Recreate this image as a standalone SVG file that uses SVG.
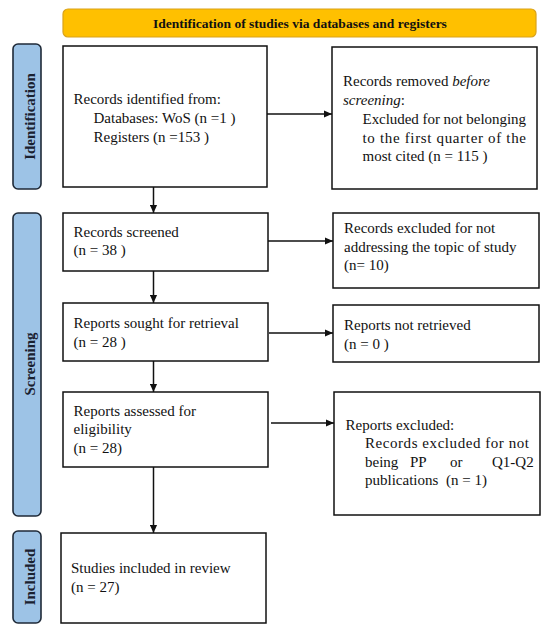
<svg xmlns="http://www.w3.org/2000/svg" width="550" height="633" viewBox="0 0 550 633">
<defs>
<style>
.box{fill:#fff;stroke:#111;stroke-width:1.5}
.bar{fill:#9DC3E6;stroke:#1f2a38;stroke-width:1.6}
.t{font-family:"Liberation Serif","Times New Roman",serif;font-size:15px;fill:#111}
.lbl{font-family:"Liberation Serif","Times New Roman",serif;font-size:15px;font-weight:bold;fill:#1a2130}
.hdr{font-family:"Liberation Serif","Times New Roman",serif;font-size:13.5px;font-weight:bold;fill:#111}
.c{stroke:#111;stroke-width:1.5;fill:none;marker-end:url(#ah)}
</style>
<marker id="ah" viewBox="0 0 10 10" refX="10" refY="5" markerWidth="9" markerHeight="8" markerUnits="userSpaceOnUse" orient="auto">
<path d="M0,0.5 L10,5 L0,9.5 z" fill="#111"/>
</marker>
</defs>
<rect width="550" height="633" fill="#fff"/>

<g id="header">
<rect x="63" y="9" width="473" height="28" rx="5" fill="#FFC000" stroke="#D9A21B" stroke-width="1.2"/>
<text class="hdr" x="300" y="28" text-anchor="middle">Identification of studies via databases and registers</text>
</g>

<g id="phase-identification">
<rect class="bar" x="13" y="44" width="28" height="145" rx="5"/>
<text class="lbl" x="34.5" y="116.5" text-anchor="middle" transform="rotate(-90 34.5 116.5)">Identification</text>
</g>
<g id="phase-screening">
<rect class="bar" x="13" y="213" width="28" height="303" rx="5"/>
<text class="lbl" x="34.5" y="364" text-anchor="middle" transform="rotate(-90 34.5 364)">Screening</text>
</g>
<g id="phase-included">
<rect class="bar" x="13" y="531" width="28" height="92" rx="5"/>
<text class="lbl" x="34.5" y="577" text-anchor="middle" transform="rotate(-90 34.5 577)">Included</text>
</g>

<g id="records-identified">
<rect class="box" x="63" y="46" width="204" height="141"/>
<text class="t" x="73.5" y="104">Records identified from:</text>
<text class="t" x="93.5" y="123">Databases: WoS (n =1 )</text>
<text class="t" x="93.5" y="142">Registers (n =153 )</text>
</g>

<g id="records-removed">
<rect class="box" x="332" y="47" width="205" height="142"/>
<text class="t" x="343" y="86">Records removed <tspan font-style="italic">before</tspan></text>
<text class="t" x="343" y="105"><tspan font-style="italic">screening</tspan>:</text>
<text class="t" x="362.5" y="124" textLength="163.5" lengthAdjust="spacing">Excluded for not belonging</text>
<text class="t" x="362.5" y="142.5" textLength="163.5" lengthAdjust="spacing">to the first quarter of the</text>
<text class="t" x="362.5" y="161">most cited (n = 115 )</text>
</g>

<g id="records-screened">
<rect class="box" x="63" y="213" width="205" height="58"/>
<text class="t" x="73.5" y="236.5">Records screened</text>
<text class="t" x="73.5" y="255">(n = 38 )</text>
</g>

<g id="records-excluded">
<rect class="box" x="333" y="213" width="206" height="75"/>
<text class="t" x="344" y="233">Records excluded for not</text>
<text class="t" x="344" y="252">addressing the topic of study</text>
<text class="t" x="344" y="270">(n= 10)</text>
</g>

<g id="reports-sought">
<rect class="box" x="63" y="303" width="205" height="58"/>
<text class="t" x="73.5" y="328">Reports sought for retrieval</text>
<text class="t" x="73.5" y="347">(n = 28 )</text>
</g>

<g id="reports-not-retrieved">
<rect class="box" x="333" y="305" width="206" height="57"/>
<text class="t" x="344" y="330">Reports not retrieved</text>
<text class="t" x="344" y="348.5">(n = 0 )</text>
</g>

<g id="reports-assessed">
<rect class="box" x="63" y="392" width="205" height="75"/>
<text class="t" x="73.5" y="415.5">Reports assessed for</text>
<text class="t" x="73.5" y="434">eligibility</text>
<text class="t" x="73.5" y="452.5">(n = 28)</text>
</g>

<g id="reports-excluded">
<rect class="box" x="334" y="392" width="206" height="123"/>
<text class="t" x="345.5" y="429.5">Reports excluded:</text>
<text class="t" x="365" y="448" textLength="164" lengthAdjust="spacing">Records excluded for not</text>
<text class="t" y="466.5"><tspan x="365">being</tspan><tspan x="410">PP</tspan><tspan x="450">or</tspan><tspan x="492">Q1-Q2</tspan></text>
<text class="t" y="485"><tspan x="365">publications</tspan><tspan x="446">(n = 1)</tspan></text>
</g>

<g id="studies-included">
<rect class="box" x="61" y="533" width="205" height="90"/>
<text class="t" x="71" y="573">Studies included in review</text>
<text class="t" x="71" y="592">(n = 27)</text>
</g>

<g id="connectors">
<line class="c" x1="267" y1="114" x2="332" y2="114"/>
<line class="c" x1="268" y1="241" x2="333" y2="241"/>
<line class="c" x1="269" y1="333" x2="333" y2="333"/>
<line class="c" x1="271" y1="423" x2="334" y2="423"/>
<line class="c" x1="153.5" y1="187" x2="153.5" y2="213"/>
<line class="c" x1="153.5" y1="271" x2="153.5" y2="303"/>
<line class="c" x1="153.5" y1="361" x2="153.5" y2="392"/>
<line class="c" x1="153.5" y1="467" x2="153.5" y2="533"/>
</g>
</svg>
